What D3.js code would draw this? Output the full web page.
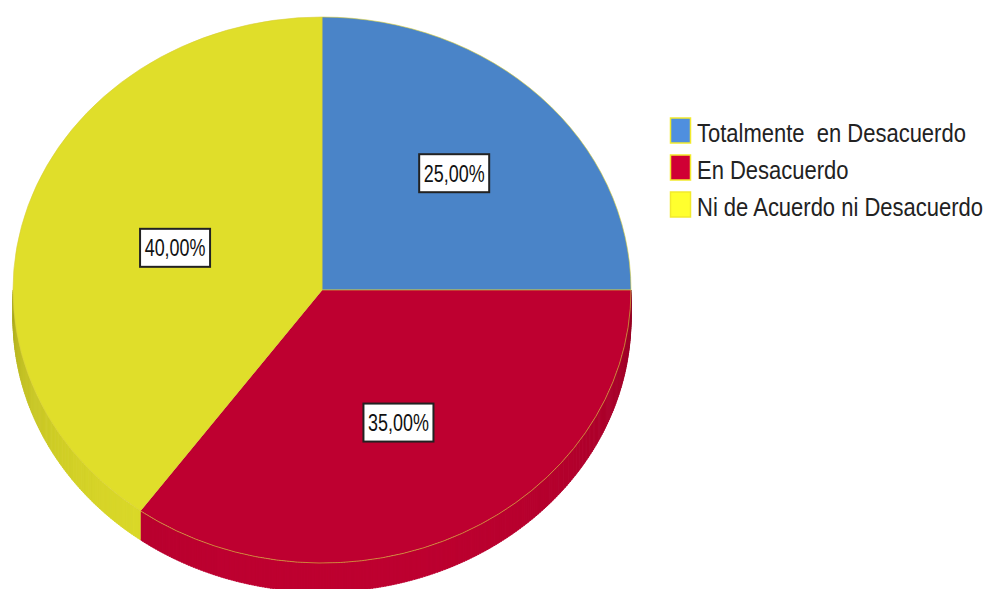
<!DOCTYPE html>
<html>
<head>
<meta charset="utf-8">
<script src="https://cdn.jsdelivr.net/npm/d3@7"></script>
<style>
  html, body { margin: 0; padding: 0; background: #fff; }
  svg { display: block; }
  text { font-family: "Liberation Sans", Arial, sans-serif; white-space: pre; }
</style>
</head>
<body>
<svg id="chart" width="991" height="589"></svg>
<script>
// ---- data ----
const categories = ["Totalmente  en Desacuerdo", "En Desacuerdo", "Ni de Acuerdo ni Desacuerdo"];
const values = [25, 35, 40];
const valueLabels = ["25,00%", "35,00%", "40,00%"];

// ---- style / layout ----
const topColors = ["#4a84c8", "#be0030", "#e0de2a"];
const legendColors = ["#4f8fdf", "#d00034", "#ffff2e"];
const labelRadiusFrac = [0.605, 0.545, 0.5];

const W = 991, H = 589;
const cx = 322, cy = 290, rx = 309, ry = 273, depth = 29;
const sy = ry / rx;

const svg = d3.select("#chart");

const pie = d3.pie().sort(null).value(d => d).startAngle(0).endAngle(2 * Math.PI);
const arcsData = pie(values);

// ---- side (extrusion) ----
const sideG = svg.append("g");
const px = a => cx + rx * Math.sin(a);
const py = a => cy - ry * Math.cos(a);
arcsData.forEach((d, i) => {
  const a0 = Math.max(d.startAngle, Math.PI / 2);
  const a1 = Math.min(d.endAngle, 3 * Math.PI / 2);
  if (a1 <= a0) return;
  const n = Math.ceil((a1 - a0) / (Math.PI / 360));
  const step = (a1 - a0) / n;
  const base = d3.rgb(topColors[i]);
  for (let k = 0; k < n; k++) {
    const s = a0 + k * step, e = Math.min(a1, s + step * 1.3);
    const m = (s + e) / 2;
    const f = 0.74 + 0.26 * Math.sqrt(Math.max(0, -Math.cos(m)));
    const c = d3.rgb(base.r * f, base.g * f, base.b * f).formatHex();
    const p = d3.path();
    p.moveTo(px(s), py(s));
    p.lineTo(px(e), py(e));
    p.lineTo(px(e), py(e) + depth);
    p.lineTo(px(s), py(s) + depth);
    p.closePath();
    sideG.append("path").attr("d", p.toString()).attr("fill", c)
      .attr("stroke", c).attr("stroke-width", 0.6);
  }
});

// ---- top face ----
const arc = d3.arc().innerRadius(0).outerRadius(rx);
const topG = svg.append("g").attr("transform", `translate(${cx},${cy}) scale(1,${sy})`);
topG.selectAll("path").data(arcsData).join("path")
  .attr("d", arc)
  .attr("fill", (d, i) => topColors[i])
  .attr("stroke", "#d9cf3a")
  .attr("stroke-opacity", 0.6)
  .attr("stroke-width", 1)
  .attr("vector-effect", "non-scaling-stroke");

// ---- value labels ----
const bw = 70, bh = 38;
const labelsG = svg.append("g");
arcsData.forEach((d, i) => {
  const r = rx * labelRadiusFrac[i];
  const c = d3.arc().innerRadius(r).outerRadius(r).centroid(d);
  const x = cx + c[0], y = cy + c[1] * sy;
  labelsG.append("rect")
    .attr("x", x - bw / 2).attr("y", y - bh / 2)
    .attr("width", bw).attr("height", bh)
    .attr("fill", "#fff").attr("stroke", "#222").attr("stroke-width", 2);
  labelsG.append("text")
    .attr("transform", `translate(${x},${y + 8.5}) scale(0.78,1)`)
    .attr("text-anchor", "middle")
    .attr("font-size", 23)
    .attr("fill", "#111")
    .text(valueLabels[i]);
});

// ---- legend ----
const legendG = svg.append("g");
const legY = d3.scalePoint().domain(categories).range([118, 192]);
categories.forEach((cat, i) => {
  const y = legY(cat);
  legendG.append("rect")
    .attr("x", 670.5).attr("y", y)
    .attr("width", 20).attr("height", 25)
    .attr("fill", legendColors[i])
    .attr("stroke", "#f2ea2c").attr("stroke-width", 1.5);
  legendG.append("text")
    .attr("transform", `translate(697,${y + 24}) scale(0.88,1)`)
    .attr("xml:space", "preserve")
    .attr("font-size", 25)
    .attr("fill", "#222")
    .text(cat);
});
</script>
</body>
</html>
